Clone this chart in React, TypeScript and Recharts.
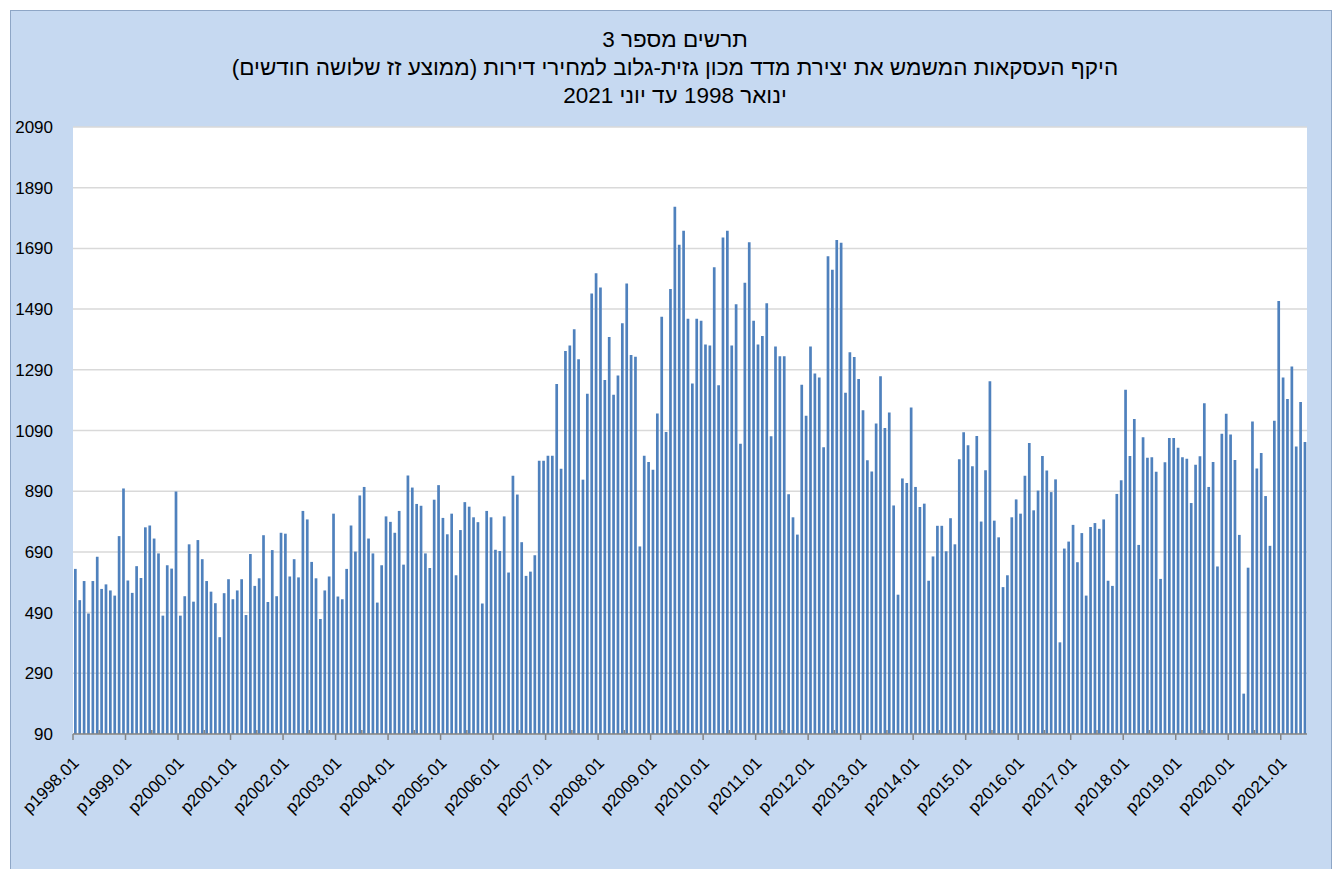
import React from 'react';
import { BarChart, Bar, XAxis, YAxis, CartesianGrid } from 'recharts';

// Monthly values (three-month moving average), Jan 1998 - Jun 2021
const v1998 = [634, 531, 594, 487, 594, 674, 568, 583, 563, 546, 742, 899];
const v1999 = [596, 555, 643, 604, 771, 777, 734, 685, 480, 646, 635, 889];
const v2000 = [480, 544, 715, 526, 729, 666, 594, 559, 521, 409, 554, 600];
const v2001 = [534, 563, 600, 482, 683, 578, 603, 745, 525, 696, 544, 753];
const v2002 = [750, 609, 666, 606, 825, 797, 657, 603, 469, 563, 609, 816];
const v2003 = [543, 534, 634, 777, 691, 876, 904, 734, 685, 523, 646, 807];
const v2004 = [789, 753, 825, 648, 942, 902, 848, 842, 685, 637, 862, 910];
const v2005 = [802, 748, 816, 613, 762, 854, 839, 804, 788, 520, 825, 804];
const v2006 = [697, 693, 807, 622, 941, 879, 722, 611, 625, 679, 990, 990];
const v2007 = [1007, 1007, 1243, 964, 1352, 1370, 1424, 1325, 928, 1211, 1541, 1608];
const v2008 = [1561, 1256, 1398, 1208, 1271, 1443, 1574, 1339, 1333, 708, 1007, 986];
const v2009 = [961, 1146, 1465, 1085, 1556, 1827, 1702, 1748, 1458, 1245, 1458, 1452];
const v2010 = [1373, 1370, 1628, 1239, 1726, 1748, 1370, 1506, 1046, 1577, 1710, 1452];
const v2011 = [1373, 1401, 1509, 1071, 1367, 1335, 1335, 880, 804, 747, 1241, 1139];
const v2012 = [1367, 1278, 1265, 1035, 1664, 1620, 1718, 1709, 1214, 1348, 1332, 1260];
const v2013 = [1157, 992, 955, 1113, 1269, 1098, 1149, 843, 549, 932, 917, 1166];
const v2014 = [904, 838, 849, 595, 675, 776, 776, 692, 801, 715, 995, 1084];
const v2015 = [1041, 972, 1072, 790, 959, 1252, 793, 738, 574, 613, 804, 863];
const v2016 = [816, 941, 1049, 827, 892, 1006, 958, 887, 929, 392, 701, 724];
const v2017 = [779, 656, 752, 546, 772, 785, 766, 797, 595, 578, 881, 926];
const v2018 = [1224, 1006, 1128, 713, 1068, 1000, 1002, 954, 601, 985, 1065, 1065];
const v2019 = [1033, 1002, 997, 851, 977, 1005, 1180, 904, 986, 642, 1079, 1145];
const v2020 = [1077, 993, 746, 223, 638, 1120, 965, 1016, 874, 710, 1122, 1517];
const v2021 = [1265, 1194, 1301, 1037, 1184, 1052];

const years = [1998, 1999, 2000, 2001, 2002, 2003, 2004, 2005, 2006, 2007, 2008, 2009,
  2010, 2011, 2012, 2013, 2014, 2015, 2016, 2017, 2018, 2019, 2020, 2021];
const yearSeries = [v1998, v1999, v2000, v2001, v2002, v2003, v2004, v2005, v2006, v2007,
  v2008, v2009, v2010, v2011, v2012, v2013, v2014, v2015, v2016, v2017, v2018, v2019, v2020, v2021];
const monthCodes = ['01', '02', '03', '04', '05', '06', '07', '08', '09', '10', '11', '12'];
const yTicks = [90, 290, 490, 690, 890, 1090, 1290, 1490, 1690, 1890, 2090];

const titleLines = [
  'תרשים מספר 3',
  'היקף העסקאות המשמש את יצירת מדד מכון גזית-גלוב למחירי דירות (ממוצע זז שלושה חודשים)',
  'ינואר 1998 עד יוני 2021',
];

const data: { label: string; value: number }[] = [];
yearSeries.forEach((arr, yi) => {
  arr.forEach((v, mi) => {
    data.push({ label: `p${years[yi]}.${monthCodes[mi]}`, value: v });
  });
});

const W = 1332;
const H = 869;
const PLOT_LEFT = 73;
const PLOT_RIGHT = 1307;
const PLOT_TOP = 127;
const PLOT_BOTTOM = 734;
const X_AXIS_H = 100;
const Y_AXIS_W = 60;
const BAND = (PLOT_RIGHT - PLOT_LEFT) / data.length;

const FONT = '"Liberation Sans", Arial, sans-serif';

const XTick = (props: any) => {
  const { x, y, payload } = props;
  const half = payload && typeof payload.offset === 'number' && payload.offset > 0 ? payload.offset : BAND / 2;
  const xe = x - half;
  const label: string = payload.value;
  const major = label.endsWith('.01');
  if (!major) {
    return <line x1={xe} x2={xe} y1={y} y2={y - 4} stroke="#868686" strokeWidth={1.5} />;
  }
  return (
    <g>
      <line x1={xe} x2={xe} y1={y} y2={y + 6} stroke="#868686" strokeWidth={1.5} />
      <text
        transform={`translate(${xe + 7},${y + 30}) rotate(-45)`}
        textAnchor="end"
        fontSize={17}
        fontFamily={FONT}
        fill="#000"
      >
        {label}
      </text>
    </g>
  );
};

export default function App() {
  return (
    <div style={{ position: 'absolute', left: 0, top: 0, width: W, height: H, overflow: 'hidden', background: '#fff' }}>
      <div
        style={{
          position: 'absolute',
          left: 10,
          top: 10,
          width: W - 12,
          height: H,
          background: '#C6D9F1',
          borderLeft: '1px solid #8EA6C6',
          borderTop: '1px solid #8EA6C6',
          borderRight: '1px solid #8EA6C6',
        }}
      />
      {titleLines.map((t, i) => (
        <div
          key={i}
          style={{
            position: 'absolute',
            left: 0,
            width: 1350,
            top: 26 + i * 28,
            textAlign: 'center',
            fontFamily: FONT,
            fontSize: 22.5,
            lineHeight: '28px',
            direction: 'rtl',
            color: '#000',
          }}
        >
          {t}
        </div>
      ))}
      <div style={{ position: 'absolute', left: 0, top: 0 }}>
        <BarChart
          width={W}
          height={H}
          data={data}
          margin={{
            top: PLOT_TOP,
            right: W - PLOT_RIGHT,
            bottom: H - PLOT_BOTTOM - X_AXIS_H,
            left: PLOT_LEFT - Y_AXIS_W,
          }}
          barSize={2.7}
        >
          <CartesianGrid vertical={false} stroke="#D9D9D9" strokeWidth={1.5} fill="#FFFFFF" />
          <XAxis
            dataKey="label"
            interval={5}
            height={X_AXIS_H}
            tickLine={false}
            tickSize={0}
            tickMargin={0}
            axisLine={{ stroke: '#868686', strokeWidth: 1.5 }}
            tick={<XTick />}
          />
          <YAxis
            type="number"
            domain={[90, 2090]}
            ticks={yTicks}
            interval={0}
            width={Y_AXIS_W}
            axisLine={false}
            tickLine={false}
            tickSize={0}
            tickMargin={20}
            allowDataOverflow
            tick={{ fontSize: 17, fontFamily: FONT, fill: '#000' }}
          />
          <Bar dataKey="value" fill="#4F81BD" isAnimationActive={false} />
        </BarChart>
      </div>
    </div>
  );
}
